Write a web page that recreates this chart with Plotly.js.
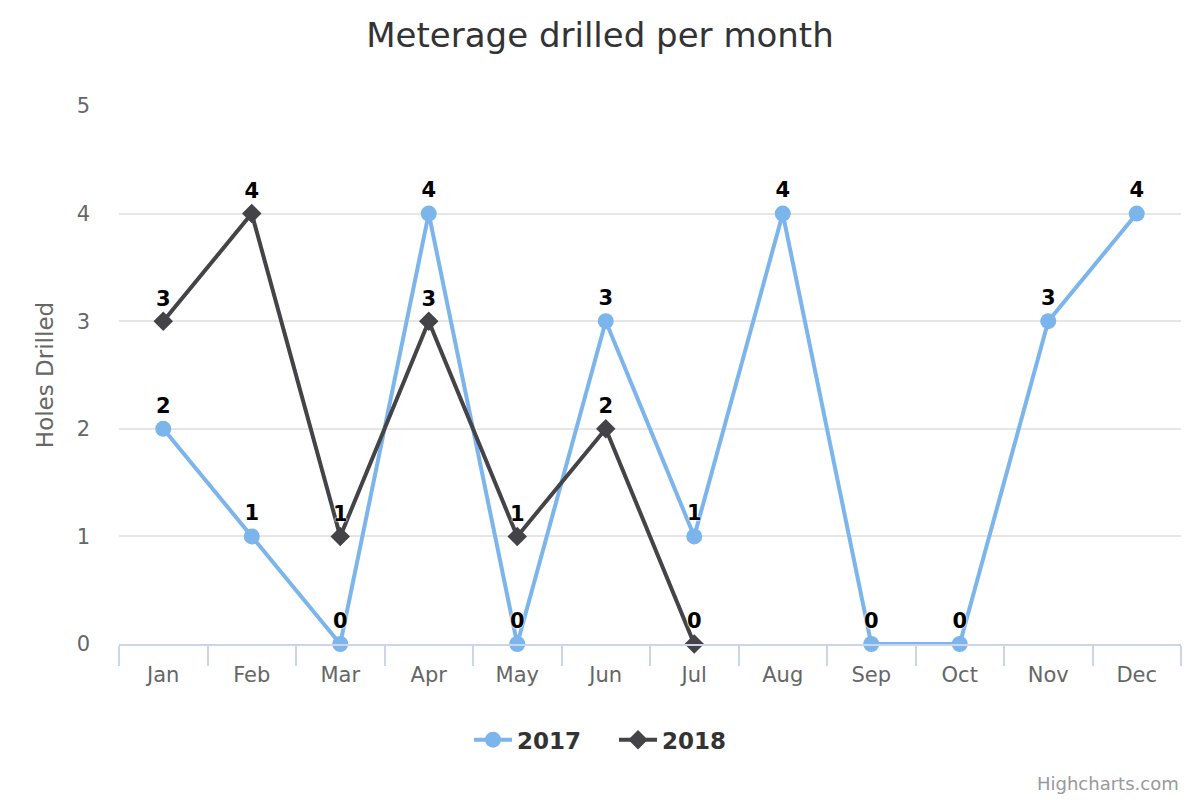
<!DOCTYPE html>
<html>
<head>
<meta charset="utf-8">
<script src="https://cdn.plot.ly/plotly-3.0.1.min.js"></script>
<style>
html,body{margin:0;padding:0;background:#fff;}
#chart{width:1200px;height:800px;}
</style>
</head>
<body>
<div id="chart"></div>
<script>
const months = ["Jan","Feb","Mar","Apr","May","Jun","Jul","Aug","Sep","Oct","Nov","Dec"];
const months2018 = ["Jan","Feb","Mar","Apr","May","Jun","Jul"];
const holes2017 = [2,1,0,4,0,3,1,4,0,0,3,4];
const holes2018 = [3,4,1,3,1,2,0];
const yTicks = [0,1,2,3,4,5];

const FONT = "DejaVu Sans, Verdana, Arial, sans-serif";
const labelFont = {family: FONT, size: 21, color: "#000000", weight: "bold", shadow: "0px 0px 2px #ffffff, 0px 0px 2px #ffffff, 0px 0px 1px #ffffff"};

const traces = [
  {
    name: "2017", x: months, y: holes2017, type: "scatter", mode: "lines+markers+text",
    line: {color: "#7cb5ec", width: 4},
    marker: {symbol: "circle", size: 16, color: "#7cb5ec"},
    text: holes2017.map(String), textposition: "top center", textfont: labelFont,
    cliponaxis: false, hoverinfo: "x+y+name"
  },
  {
    name: "2018", x: months2018, y: holes2018, type: "scatter", mode: "lines+markers+text",
    line: {color: "#434348", width: 4},
    marker: {symbol: "diamond", size: 15, color: "#434348"},
    text: holes2018.map(String), textposition: "top center", textfont: labelFont,
    cliponaxis: false, hoverinfo: "x+y+name"
  }
];

const layout = {
  width: 1200, height: 800,
  margin: {l: 119, r: 19, t: 106, b: 156, autoexpand: false},
  paper_bgcolor: "#ffffff", plot_bgcolor: "#ffffff",
  font: {family: FONT, color: "#666666"},
  title: {text: "Meterage drilled per month", x: 0.5, xanchor: "center", y: 0.956, yanchor: "middle",
          font: {family: FONT, size: 34, color: "#333333"}},
  xaxis: {
    type: "category", categoryorder: "array", categoryarray: months,
    range: [-0.5, 11.5], tickson: "boundaries",
    ticks: "outside", ticklen: 20, tickwidth: 2, tickcolor: "#ccd6eb",
    ticklabelstandoff: 11, tickangle: 0,
    showline: true, linecolor: "#ccd6eb", linewidth: 2,
    showgrid: false, zeroline: false,
    tickfont: {family: FONT, size: 21, color: "#666666"}, fixedrange: true
  },
  yaxis: {
    range: [0, 5], tickvals: yTicks, ticktext: yTicks.map(String),
    showgrid: true, gridcolor: "#e6e6e6", gridwidth: 2,
    zeroline: false, showline: false, ticks: "",
    ticklabelstandoff: 28,
    tickfont: {family: FONT, size: 21, color: "#666666"},
    title: {text: "Holes Drilled", standoff: 16, font: {family: FONT, size: 23, color: "#666666"}},
    fixedrange: true
  },
  showlegend: true,
  legend: {
    orientation: "h", x: (469 - 119) / 1062, xanchor: "left",
    y: -0.178, yanchor: "middle",
    font: {family: FONT, size: 23, color: "#333333", weight: "bold"},
    itemwidth: 38,
    entrywidth: 92, entrywidthmode: "pixels", tracegroupgap: 0
  },
  annotations: [{
    text: "Highcharts.com", xref: "paper", yref: "paper", x: 1, y: 0, xanchor: "right", yanchor: "middle",
    xshift: 0, yshift: -139, showarrow: false, font: {family: FONT, size: 18, color: "#999999"}
  }]
};

Plotly.newPlot("chart", traces, layout, {displayModeBar: false, staticPlot: false});
</script>
</body>
</html>
